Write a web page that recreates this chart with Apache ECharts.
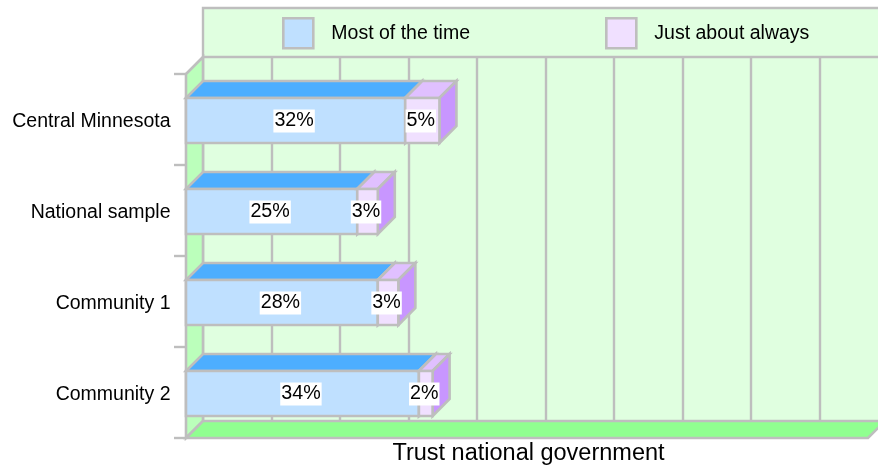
<!DOCTYPE html>
<html><head><meta charset="utf-8">
<style>html,body{margin:0;padding:0;background:#fff}#c{width:878px;height:467px}</style>
<script src="https://cdn.jsdelivr.net/npm/echarts@6/dist/echarts.min.js"></script>
</head><body><div id="c"></div>
<script>
const categories = ['Central Minnesota','National sample','Community 1','Community 2'];
const mostOfTheTime = [32,25,28,34];
const justAboutAlways = [5,3,3,2];
const seriesNames = ['Most of the time','Just about always'];
const axisTitle = 'Trust national government';

const FONT = '"Liberation Sans", Arial, Helvetica, sans-serif';
const GRAY = '#BEBEBE', D = 17, BAR_H = 45;
const chart = echarts.init(document.getElementById('c'), null, {renderer:'canvas'});

function bar(colors){
  return function(params, api){
    const i = api.value(0), start = api.value(1), end = api.value(2);
    const a = api.coord([start, i]), b = api.coord([end, i]);
    const x0 = a[0], x1 = b[0], y0 = a[1] + 1 - BAR_H/2, y1 = y0 + BAR_H;
    const line = {stroke:GRAY, lineWidth:2.6, lineJoin:'miter'};
    const kids = [
      {type:'polygon', shape:{points:[[x0,y0],[x0+D,y0-D],[x1+D,y0-D],[x1,y0]]},
       style:Object.assign({fill:colors.top}, line)},
      {type:'polygon', shape:{points:[[x1,y0],[x1+D,y0-D],[x1+D,y1-D],[x1,y1]]},
       style:Object.assign({fill:colors.side}, line)},
      {type:'rect', shape:{x:x0,y:y0,width:x1-x0,height:BAR_H},
       style:Object.assign({fill:colors.front}, line)},
      {type:'text', z2:50, style:{x:(x0+x1)/2-1.5, y:(y0+y1)/2+0.5, text:api.value(3)+'%', align:'center', verticalAlign:'middle',
        fill:'#000', font:'19.7px '+FONT, backgroundColor:'#fff', padding:[2,1,1,1]}}
    ];
    return {type:'group', children:kids};
  };
}
const colA = {front:'#BFE0FF', top:'#4DAEFF', side:'#4DAEFF'};
const colB = {front:'#F0E0FF', top:'#E0C0FF', side:'#C896FF'};
const dataA = mostOfTheTime.map((v,i)=>[i,0,v,v]);
const dataB = justAboutAlways.map((v,i)=>[i,mostOfTheTime[i],mostOfTheTime[i]+v,v]);

const option = {
  animation:false,
  backgroundColor:'#fff',
  textStyle:{fontFamily:FONT},
  legend:{
    left:282, top:17, padding:0, itemWidth:30, itemHeight:30, itemGap:135, selectedMode:false,
    textStyle:{fontSize:19.5, color:'#000', fontFamily:FONT, padding:[2,0,0,13]},
    data:[
      {name:seriesNames[0], icon:'rect', itemStyle:{color:colA.front, borderColor:GRAY, borderWidth:2.6}},
      {name:seriesNames[1], icon:'rect', itemStyle:{color:colB.front, borderColor:GRAY, borderWidth:2.6}}
    ]
  },
  grid:[
    {left:186, right:7, top:74, bottom:29, outerBoundsMode:'none'},
    {left:203, right:-10, top:57, bottom:46, outerBoundsMode:'none', show:true, backgroundColor:'#E0FFE0', borderWidth:0}
  ],
  xAxis:[
    {gridIndex:0, type:'value', min:0, max:100, interval:10,
     name:axisTitle, nameLocation:'middle', nameGap:4,
     nameTextStyle:{fontSize:23.5, color:'#000', fontFamily:FONT},
     axisLine:{show:false}, axisTick:{show:false}, axisLabel:{show:false}, splitLine:{show:false}},
    {gridIndex:1, type:'value', min:0, max:100, interval:10,
     axisLine:{show:false}, axisTick:{show:false}, axisLabel:{show:false},
     splitLine:{show:true, lineStyle:{color:GRAY, width:2.4}}}
  ],
  yAxis:[
    {gridIndex:0, type:'category', inverse:true, data:categories,
     axisLine:{show:false},
     axisTick:{show:true, length:12, lineStyle:{color:GRAY, width:2.4}},
     axisLabel:{margin:15.5, formatter:function(v){return '{t|'+v+'}';},
       rich:{t:{fontSize:19.5, color:'#000', fontFamily:FONT, padding:[4,0,0,0]}}}},
    {gridIndex:1, type:'category', inverse:true, data:categories, show:false}
  ],
  graphic:[
    {type:'rect', z:0, silent:true, shape:{x:203,y:8,width:690,height:49},
     style:{fill:'#E0FFE0', stroke:GRAY, lineWidth:2.4}}
  ],
  series:[
    {type:'custom', name:'frame', xAxisIndex:0, yAxisIndex:0, z:1, silent:true, clip:false,
     data:[[0]],
     renderItem:function(p, api){
       const l = api.coord([0,0])[0], r = api.coord([100,0])[0] - 3;
       const t = p.coordSys.y, b = p.coordSys.y + p.coordSys.height;
       const line = {stroke:GRAY, lineWidth:2.6};
       return {type:'group', children:[
         {type:'polygon', shape:{points:[[l,t],[l+D,t-D],[l+D,b-D],[l,b]]}, style:Object.assign({fill:'#BBFFBB'},line)},
         {type:'polygon', shape:{points:[[l,b],[l+D,b-D],[r+D,b-D],[r,b]]}, style:Object.assign({fill:'#90FF90'},line)}
       ]};
     }},
    {type:'custom', name:seriesNames[0], xAxisIndex:0, yAxisIndex:0, z:3, clip:false,
     encode:{x:[1,2], y:0}, data:dataA, renderItem:bar(colA)},
    {type:'custom', name:seriesNames[1], xAxisIndex:0, yAxisIndex:0, z:4, clip:false,
     encode:{x:[1,2], y:0}, data:dataB, renderItem:bar(colB)}
  ]
};
chart.setOption(option);
</script></body></html>
